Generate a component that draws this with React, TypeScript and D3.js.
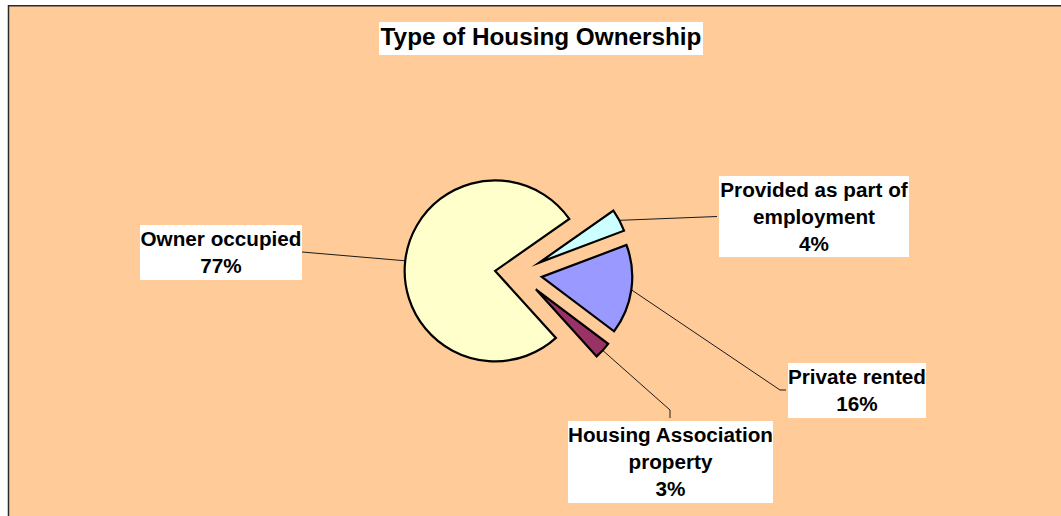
import React from "react";
import * as d3 from "d3";

const categories = [
  "Provided as part of employment",
  "Private rented",
  "Housing Association property",
  "Owner occupied",
];
const values = [4, 16, 3, 77];
const sliceColors = ["#CCFFFF", "#9999FF", "#993366", "#FFFFCC"];
const chartTitle = "Type of Housing Ownership";

// label box layout (page coordinates) and leader line routing
const labelLayout = [
  { x: 719, y: 176, w: 190, h: 81, breakAfter: 4, path: [[717, 216.5]] },
  { x: 788, y: 363, w: 138, h: 55, breakAfter: 99, path: [[780, 390], [786, 390]] },
  { x: 568, y: 421, w: 205, h: 82, breakAfter: 2, path: [[670, 410], [670, 418]] },
  { x: 140, y: 225, w: 162, h: 55, breakAfter: 99, path: [[302, 252]] },
];

const W = 1061;
const H = 516;
const CX = 518.5;
const CY = 273.5;
const R = 90.5;
const EXPLODE = 23.5;
const START = (55 * Math.PI) / 180;
const FONT = "'Liberation Sans', Arial, Helvetica, sans-serif";

export default function App() {
  const pie = d3
    .pie<number>()
    .sort(null)
    .value((d) => d)
    .startAngle(START)
    .endAngle(START + 2 * Math.PI);
  const arcs = pie(values);
  const arc = d3.arc<d3.PieArcDatum<number>>().innerRadius(0).outerRadius(R);
  const total = d3.sum(values);

  return (
    <svg
      width={W}
      height={H}
      style={{ position: "absolute", left: 0, top: 0, display: "block" }}
      fontFamily={FONT}
    >
      <rect x={8.5} y={5.75} width={W + 20} height={H + 20} fill="#FFCC99" stroke="#2a2a2a" strokeWidth={1.5} />

      {/* title */}
      <rect x={379} y={22} width={324} height={33} fill="#FFFFFF" />
      <text x={541} y={45} textAnchor="middle" fontSize={24.3} fontWeight="bold" fill="#000">
        {chartTitle}
      </text>

      {/* leader lines */}
      {arcs.map((a, i) => {
        const mid = (a.startAngle + a.endAngle) / 2;
        const ux = Math.sin(mid);
        const uy = -Math.cos(mid);
        const sx = CX + ux * (EXPLODE + R);
        const sy = CY + uy * (EXPLODE + R);
        const pts: [number, number][] = [[sx, sy], ...(labelLayout[i].path as [number, number][])];
        return (
          <path
            key={"l" + i}
            d={d3.line()(pts) || ""}
            fill="none"
            stroke="#1a1a1a"
            strokeWidth={1}
          />
        );
      })}

      {/* slices */}
      {arcs.map((a, i) => {
        const mid = (a.startAngle + a.endAngle) / 2;
        const dx = Math.sin(mid) * EXPLODE;
        const dy = -Math.cos(mid) * EXPLODE;
        return (
          <path
            key={"s" + i}
            d={arc(a) || ""}
            transform={`translate(${CX + dx},${CY + dy})`}
            fill={sliceColors[i]}
            stroke="#000"
            strokeWidth={2.2}
            strokeLinejoin="miter"
            strokeMiterlimit={10}
          />
        );
      })}

      {/* labels */}
      {categories.map((c, i) => {
        const L = labelLayout[i];
        const words = c.split(" ");
        const lines: string[] = [];
        if (words.length > L.breakAfter) {
          lines.push(words.slice(0, L.breakAfter).join(" "));
          lines.push(words.slice(L.breakAfter).join(" "));
        } else {
          lines.push(c);
        }
        lines.push(`${Math.round((values[i] / total) * 100)}%`);
        const cx = L.x + L.w / 2;
        return (
          <g key={"t" + i}>
            <rect x={L.x} y={L.y} width={L.w} height={L.h} fill="#FFFFFF" />
            {lines.map((ln, j) => (
              <text
                key={j}
                x={cx}
                y={L.y + 21 + j * 26.8}
                textAnchor="middle"
                fontSize={20.7}
                fontWeight="bold"
                fill="#000"
              >
                {ln}
              </text>
            ))}
          </g>
        );
      })}
    </svg>
  );
}
